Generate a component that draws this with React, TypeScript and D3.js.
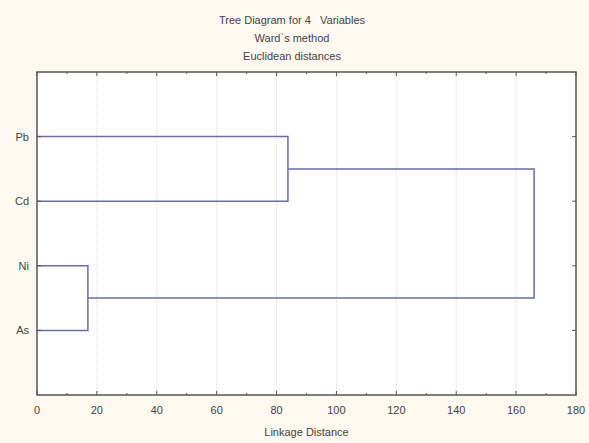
import React from "react";
import * as d3 from "d3";

const leaves = ["Pb", "Cd", "Ni", "As"];
const mergeDistances = [17.0, 83.8, 166.0];
const xTicks = [0, 20, 40, 60, 80, 100, 120, 140, 160, 180];
const titleLines = ["Tree Diagram for 4   Variables", "Ward`s method", "Euclidean distances"];
const xLabel = "Linkage Distance";

const W = 589, H = 443;
const plot = { left: 37, right: 576, top: 72, bottom: 395 };
const lineColor = "#6b6ba8";
const font = "Liberation Sans, Arial, sans-serif";

export default function App() {
  const x = d3.scaleLinear().domain([0, 180]).range([plot.left, plot.right]);
  const y = d3.scalePoint<string>().domain(["", ...leaves, " "]).range([plot.top, plot.bottom]);
  const yPb = y("Pb")!, yCd = y("Cd")!, yNi = y("Ni")!, yAs = y("As")!;
  const x0 = x(0);
  const mNiAs = mergeDistances[0], mPbCd = mergeDistances[1], mAll = mergeDistances[2];
  const yTop = (yPb + yCd) / 2, yBot = (yNi + yAs) / 2;
  const paths: string[] = [];
  const line = d3.line<[number, number]>();
  paths.push(line([[x0, yPb], [x(mPbCd), yPb], [x(mPbCd), yCd], [x0, yCd]])!);
  paths.push(line([[x0, yNi], [x(mNiAs), yNi], [x(mNiAs), yAs], [x0, yAs]])!);
  paths.push(line([[x(mPbCd), yTop], [x(mAll), yTop], [x(mAll), yBot], [x(mNiAs), yBot]])!);
  const minor = d3.range(10, 180, 20);
  return (
    <svg width={W} height={H} style={{ position: "absolute", left: 0, top: 0, fontFamily: font }}>
      <rect x={0} y={0} width={W} height={H} fill="#fdf9f0" />
      <rect x={plot.left} y={plot.top} width={plot.right - plot.left} height={plot.bottom - plot.top} fill="#ffffff" />
      {xTicks.slice(1, -1).map((t) => (
        <line key={"g" + t} x1={x(t)} x2={x(t)} y1={plot.top} y2={plot.bottom} stroke="#d8d8e0" strokeWidth={1} strokeDasharray="1,1" />
      ))}
      {paths.map((p, i) => (
        <path key={i} d={p} fill="none" stroke={lineColor} strokeWidth={1.5} />
      ))}
      <rect x={plot.left} y={plot.top} width={plot.right - plot.left} height={plot.bottom - plot.top} fill="none" stroke="#555" strokeWidth={1.5} />
      {xTicks.map((t) => (
        <g key={"t" + t}>
          <line x1={x(t)} x2={x(t)} y1={plot.bottom} y2={plot.bottom - 4} stroke="#555" />
          <line x1={x(t)} x2={x(t)} y1={plot.top} y2={plot.top + 4} stroke="#555" />
          <text x={x(t)} y={414} textAnchor="middle" fontSize={11} fill="#444">{t}</text>
        </g>
      ))}
      {minor.map((t) => (
        <g key={"m" + t}>
          <line x1={x(t)} x2={x(t)} y1={plot.bottom} y2={plot.bottom - 2} stroke="#555" />
          <line x1={x(t)} x2={x(t)} y1={plot.top} y2={plot.top + 2} stroke="#555" />
        </g>
      ))}
      {leaves.map((l) => (
        <g key={l}>
          <line x1={plot.left} x2={plot.left + 4} y1={y(l)!} y2={y(l)!} stroke="#555" />
          <line x1={plot.right} x2={plot.right - 4} y1={y(l)!} y2={y(l)!} stroke="#555" />
          <text x={29} y={y(l)! + 4} textAnchor="end" fontSize={11} fill="#444">{l}</text>
        </g>
      ))}
      {titleLines.map((t, i) => (
        <text key={t} x={292} y={24 + i * 18} textAnchor="middle" fontSize={11} fill="#444" style={{ whiteSpace: "pre" }}>{t}</text>
      ))}
      <text x={(plot.left + plot.right) / 2} y={436} textAnchor="middle" fontSize={11} fill="#444">{xLabel}</text>
    </svg>
  );
}
